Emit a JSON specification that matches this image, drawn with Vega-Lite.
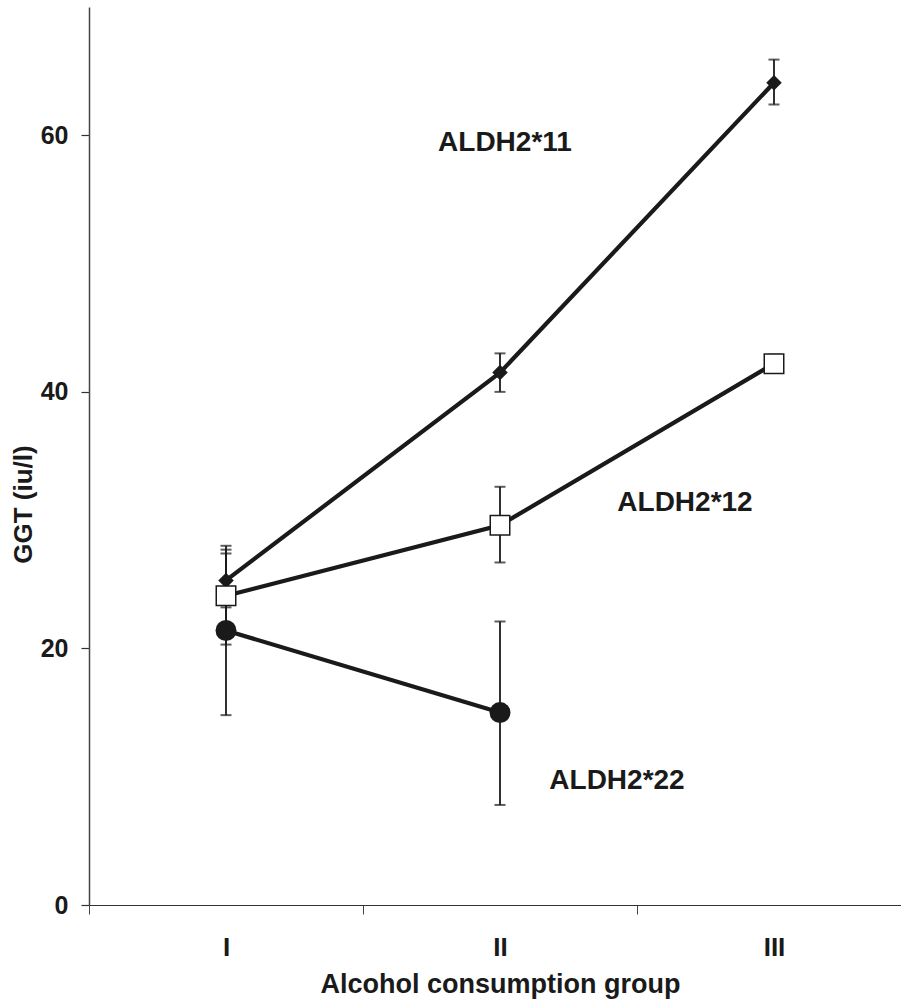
{
  "$schema": "https://vega.github.io/schema/vega-lite/v6.json",
  "autosize": "none",
  "padding": {"left": 89, "top": 7, "right": 0, "bottom": 97},
  "width": 822,
  "height": 898,
  "background": "white",
  "config": {
    "view": {"stroke": null},
    "font": "Liberation Sans",
    "axis": {"grid": false}
  },
  "datasets": {
    "pts": [
      {"group": "ALDH2*11", "level": "I", "ggt": 25.3, "lo": 23.2, "hi": 27.4},
      {"group": "ALDH2*11", "level": "II", "ggt": 41.5, "lo": 40.0, "hi": 43.0},
      {"group": "ALDH2*11", "level": "III", "ggt": 64.1, "lo": 62.4, "hi": 65.9},
      {"group": "ALDH2*12", "level": "I", "ggt": 24.1, "lo": 20.3, "hi": 27.7},
      {"group": "ALDH2*12", "level": "II", "ggt": 29.6, "lo": 26.7, "hi": 32.6},
      {"group": "ALDH2*12", "level": "III", "ggt": 42.2, "lo": 41.5, "hi": 42.9},
      {"group": "ALDH2*22", "level": "I", "ggt": 21.4, "lo": 14.8, "hi": 28.0},
      {"group": "ALDH2*22", "level": "II", "ggt": 15.0, "lo": 7.8, "hi": 22.1}
    ],
    "labels": [
      {"label": "ALDH2*11", "level": "II", "ggt": 59.4},
      {"label": "ALDH2*12", "level": "III", "ggt": 31.3},
      {"label": "ALDH2*22", "level": "II", "ggt": 9.7}
    ]
  },
  "data": {"name": "pts"},
  "encoding": {
    "x": {
      "field": "level", "type": "ordinal",
      "scale": {"domain": ["I", "II", "III"], "paddingInner": 0, "paddingOuter": 0},
      "axis": {
        "title": "Alcohol consumption group",
        "tickBand": "extent",
        "labelAngle": 0,
        "labelFont": "Liberation Sans", "labelFontWeight": "bold", "labelFontSize": 26, "labelColor": "#1a1a1a",
        "labelPadding": 20,
        "tickSize": 9, "tickColor": "#444", "tickWidth": 1,
        "domainColor": "#333", "domainWidth": 1.2,
        "titleFont": "Liberation Sans", "titleFontWeight": "bold", "titleFontSize": 27, "titleColor": "#1a1a1a",
        "titlePadding": 11
      }
    },
    "y": {
      "field": "ggt", "type": "quantitative",
      "scale": {"domain": [0, 70], "nice": false, "zero": true},
      "axis": {
        "title": "GGT (iu/l)",
        "values": [0, 20, 40, 60],
        "labelFont": "Liberation Sans", "labelFontWeight": "bold", "labelFontSize": 25, "labelColor": "#1a1a1a",
        "labelPadding": 13,
        "tickSize": 8, "tickColor": "#333", "tickWidth": 1.2,
        "domainColor": "#444", "domainWidth": 1.5,
        "titleFont": "Liberation Sans", "titleFontWeight": "bold", "titleFontSize": 26, "titleColor": "#1a1a1a",
        "titlePadding": 4,
        "titleY": 497
      }
    }
  },
  "layer": [
    {
      "mark": {"type": "rule", "color": "#1a1a1a", "strokeWidth": 1.8},
      "encoding": {"y": {"field": "lo", "type": "quantitative"}, "y2": {"field": "hi"}}
    },
    {
      "mark": {"type": "tick", "color": "#1a1a1a", "thickness": 2, "size": 11, "orient": "horizontal"},
      "encoding": {"y": {"field": "lo", "type": "quantitative"}}
    },
    {
      "mark": {"type": "tick", "color": "#1a1a1a", "thickness": 2, "size": 11, "orient": "horizontal"},
      "encoding": {"y": {"field": "hi", "type": "quantitative"}}
    },
    {
      "mark": {"type": "line", "color": "#1a1a1a", "strokeWidth": 4.2},
      "encoding": {"detail": {"field": "group"}}
    },
    {
      "transform": [{"filter": "datum.group === 'ALDH2*11'"}],
      "mark": {"type": "point", "shape": "diamond", "filled": true, "color": "#1a1a1a", "size": 240, "opacity": 1}
    },
    {
      "transform": [{"filter": "datum.group === 'ALDH2*12'"}],
      "mark": {"type": "point", "shape": "square", "filled": true, "fill": "white", "stroke": "#1a1a1a", "strokeWidth": 1.5, "size": 380, "opacity": 1}
    },
    {
      "transform": [{"filter": "datum.group === 'ALDH2*22'"}],
      "mark": {"type": "point", "shape": "circle", "filled": true, "color": "#1a1a1a", "size": 440, "opacity": 1}
    },
    {
      "data": {"name": "labels"},
      "transform": [{"filter": "datum.label === 'ALDH2*11'"}],
      "mark": {"type": "text", "font": "Liberation Sans", "fontWeight": "bold", "fontSize": 28, "color": "#1a1a1a", "dx": 5},
      "encoding": {"text": {"field": "label"}}
    },
    {
      "data": {"name": "labels"},
      "transform": [{"filter": "datum.label === 'ALDH2*12'"}],
      "mark": {"type": "text", "font": "Liberation Sans", "fontWeight": "bold", "fontSize": 28, "color": "#1a1a1a", "dx": -89},
      "encoding": {"text": {"field": "label"}}
    },
    {
      "data": {"name": "labels"},
      "transform": [{"filter": "datum.label === 'ALDH2*22'"}],
      "mark": {"type": "text", "font": "Liberation Sans", "fontWeight": "bold", "fontSize": 28, "color": "#1a1a1a", "dx": 117},
      "encoding": {"text": {"field": "label"}}
    }
  ]
}
